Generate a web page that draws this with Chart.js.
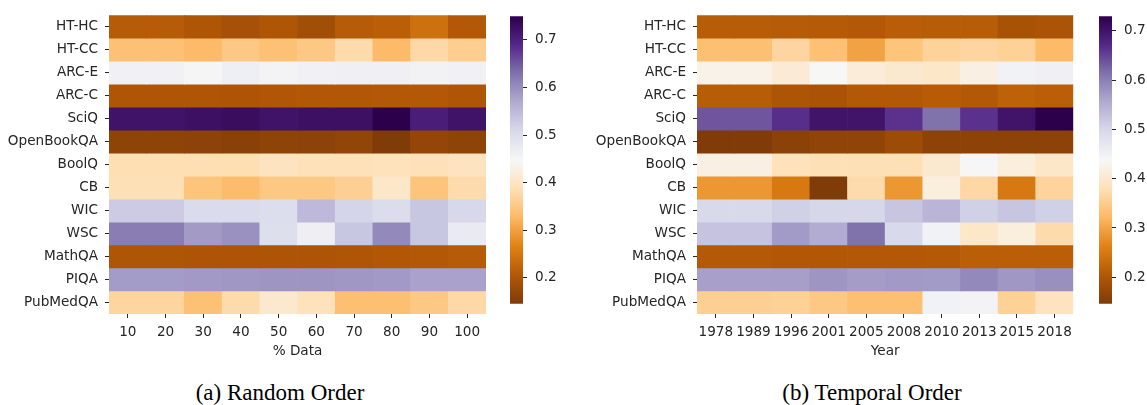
<!DOCTYPE html>
<html>
<head>
<meta charset="utf-8">
<script src="https://cdn.jsdelivr.net/npm/chart.js@4.4.0/dist/chart.umd.min.js"></script>
<style>
  body { margin: 0; background: #fff; width: 1147px; height: 405px; position: relative; overflow: hidden; }
  .box { position: absolute; }
  .cap {
    position: absolute; top: 381px; transform: translateX(-50%); white-space: nowrap;
    font-family: "Liberation Serif", "Times New Roman", serif; font-size: 23px; line-height: 23px; color: #000;
  }
</style>
</head>
<body>
<div class="box" style="left:0;top:0;width:490px;height:365px"><canvas id="hmRandom"></canvas></div>
<div class="box" style="left:510px;top:0;width:50px;height:320px"><canvas id="cbRandom"></canvas></div>
<div class="box" style="left:580px;top:0;width:498px;height:365px"><canvas id="hmTemporal"></canvas></div>
<div class="box" style="left:1099px;top:0;width:48px;height:320px"><canvas id="cbTemporal"></canvas></div>
<div class="cap" style="left:280px">(a) Random Order</div>
<div class="cap" style="left:872px">(b) Temporal Order</div>

<script>
const TASKS = ["HT-HC", "HT-CC", "ARC-E", "ARC-C", "SciQ", "OpenBookQA", "BoolQ",
  "CB", "WIC", "WSC", "MathQA", "PIQA", "PubMedQA"];

const PCT_LABELS = ["10", "20", "30", "40", "50", "60", "70", "80", "90", "100"];
const YEAR_LABELS = ["1978", "1989", "1996", "2001", "2005", "2008", "2010", "2013", "2015", "2018"];

const CB_TICKS = [0.2, 0.3, 0.4, 0.5, 0.6, 0.7];

// one row per task, one column per % of data
const RANDOM_VALUES = [
  [0.21, 0.21, 0.20, 0.19, 0.20, 0.185, 0.21, 0.215, 0.24, 0.205],     // HT-HC
  [0.34, 0.34, 0.33, 0.35, 0.34, 0.35, 0.38, 0.33, 0.375, 0.36],       // HT-CC
  [0.46, 0.46, 0.452, 0.465, 0.455, 0.46, 0.462, 0.462, 0.458, 0.46],  // ARC-E
  [0.20, 0.20, 0.20, 0.198, 0.202, 0.203, 0.203, 0.205, 0.205, 0.20],  // ARC-C
  [0.72, 0.72, 0.725, 0.73, 0.72, 0.725, 0.725, 0.75, 0.705, 0.72],    // SciQ
  [0.163, 0.163, 0.16, 0.157, 0.163, 0.16, 0.166, 0.145, 0.168, 0.162],// OpenBookQA
  [0.385, 0.385, 0.385, 0.385, 0.395, 0.39, 0.39, 0.393, 0.39, 0.395], // BoolQ
  [0.388, 0.388, 0.345, 0.333, 0.35, 0.35, 0.362, 0.405, 0.345, 0.38], // CB
  [0.527, 0.527, 0.505, 0.505, 0.50, 0.55, 0.515, 0.503, 0.533, 0.51], // WIC
  [0.618, 0.618, 0.587, 0.597, 0.497, 0.466, 0.533, 0.605, 0.533, 0.472], // WSC
  [0.20, 0.20, 0.198, 0.198, 0.198, 0.198, 0.20, 0.203, 0.205, 0.21],  // MathQA
  [0.585, 0.585, 0.588, 0.59, 0.592, 0.592, 0.59, 0.588, 0.578, 0.578],// PIQA
  [0.37, 0.37, 0.34, 0.38, 0.41, 0.393, 0.338, 0.338, 0.35, 0.375]     // PubMedQA
];

// one row per task, one column per year
const TEMPORAL_VALUES = [
  [0.21, 0.21, 0.208, 0.207, 0.205, 0.212, 0.21, 0.21, 0.192, 0.195],  // HT-HC
  [0.332, 0.332, 0.364, 0.333, 0.297, 0.338, 0.36, 0.364, 0.358, 0.326], // HT-CC
  [0.425, 0.425, 0.408, 0.437, 0.41, 0.402, 0.397, 0.42, 0.449, 0.452],// ARC-E
  [0.21, 0.21, 0.198, 0.194, 0.205, 0.205, 0.209, 0.204, 0.218, 0.213],// ARC-C
  [0.636, 0.636, 0.666, 0.70, 0.70, 0.663, 0.613, 0.663, 0.70, 0.73],  // SciQ
  [0.147, 0.147, 0.16, 0.165, 0.165, 0.18, 0.162, 0.162, 0.162, 0.162],// OpenBookQA
  [0.42, 0.42, 0.385, 0.38, 0.38, 0.38, 0.402, 0.44, 0.414, 0.397],    // BoolQ
  [0.285, 0.285, 0.25, 0.146, 0.373, 0.285, 0.414, 0.367, 0.25, 0.361],// CB
  [0.496, 0.496, 0.508, 0.50, 0.50, 0.522, 0.543, 0.508, 0.522, 0.508],// WIC
  [0.525, 0.525, 0.572, 0.555, 0.613, 0.496, 0.449, 0.397, 0.414, 0.373], // WSC
  [0.206, 0.206, 0.202, 0.203, 0.204, 0.204, 0.206, 0.214, 0.214, 0.214], // MathQA
  [0.566, 0.566, 0.568, 0.578, 0.57, 0.574, 0.572, 0.59, 0.576, 0.583],// PIQA
  [0.355, 0.355, 0.358, 0.344, 0.332, 0.332, 0.449, 0.446, 0.358, 0.388] // PubMedQA
];

// matplotlib PuOr, low -> high
const PUOR = [
  [127, 59, 8], [179, 88, 6], [224, 130, 20], [253, 184, 99], [254, 224, 182],
  [247, 247, 247], [216, 218, 235], [178, 171, 210], [128, 115, 172], [84, 39, 136], [45, 0, 75]
];

const TXT = "#262626";
const FONT = { family: "DejaVu Sans", size: 13.6 };

function puor(t) {
  t = Math.max(0, Math.min(1, t));
  const s = t * (PUOR.length - 1);
  const i = Math.min(Math.floor(s), PUOR.length - 2);
  const f = s - i;
  const a = PUOR[i], b = PUOR[i + 1];
  const c = a.map((v, k) => Math.round(v + (b[k] - v) * f));
  return `rgb(${c[0]},${c[1]},${c[2]})`;
}

function range(values) {
  const flat = values.flat();
  return [Math.min(...flat), Math.max(...flat)];
}

function tickGrid() {
  return { display: true, drawOnChartArea: false, drawTicks: true, tickLength: 4, color: TXT, lineWidth: 1 };
}

function heatmap(id, xLabels, values, xTitle, yWidth) {
  const [lo, hi] = range(values);
  const datasets = TASKS.map((task, i) => ({
    label: task,
    data: xLabels.map(() => [i - 0.5, i + 0.5]),
    backgroundColor: values[i].map((v) => puor((v - lo) / (hi - lo))),
    borderWidth: 0,
    grouped: false,
    barPercentage: 1,
    categoryPercentage: 1,
  }));

  new Chart(document.getElementById(id), {
    type: "bar",
    data: { labels: xLabels, datasets },
    options: {
      responsive: true,
      maintainAspectRatio: false,
      animation: false,
      layout: { padding: { top: 7, right: 4, left: 0, bottom: 0 } },
      plugins: { legend: { display: false }, tooltip: { enabled: false } },
      scales: {
        x: {
          grid: { ...tickGrid(), offset: false },
          border: { display: false },
          ticks: { color: TXT, font: FONT, padding: 6, maxRotation: 0, autoSkip: false },
          title: { display: true, text: xTitle, color: TXT, font: FONT, padding: { top: 0, bottom: 5 } },
          afterFit: (s) => { s.height = 51; },
        },
        y: {
          type: "linear",
          min: -0.5,
          max: TASKS.length - 0.5,
          reverse: true,
          grid: tickGrid(),
          border: { display: false },
          ticks: { color: TXT, font: FONT, padding: 7, autoSkip: false, callback: (v, i) => TASKS[i] },
          afterBuildTicks: (s) => { s.ticks = TASKS.map((_, i) => ({ value: i })); },
          afterFit: (s) => { s.width = yWidth; },
        },
      },
    },
  });
  return [lo, hi];
}

function colorbar(id, lo, hi, axisWidth) {
  new Chart(document.getElementById(id), {
    type: "bar",
    data: {
      labels: [""],
      datasets: [{
        data: [[lo, hi]],
        borderWidth: 0,
        barPercentage: 1,
        categoryPercentage: 1,
        backgroundColor: (ctx) => {
          const area = ctx.chart.chartArea;
          if (!area) return "#fff";
          const g = ctx.chart.ctx.createLinearGradient(0, area.bottom, 0, area.top);
          PUOR.forEach((c, k) => g.addColorStop(k / (PUOR.length - 1), `rgb(${c[0]},${c[1]},${c[2]})`));
          return g;
        },
      }],
    },
    options: {
      responsive: true,
      maintainAspectRatio: false,
      animation: false,
      layout: { padding: { top: 7, bottom: 6, left: 0, right: 0 } },
      plugins: { legend: { display: false }, tooltip: { enabled: false } },
      scales: {
        x: { display: false },
        y: {
          position: "right",
          min: lo,
          max: hi,
          grid: tickGrid(),
          border: { display: false },
          ticks: { color: TXT, font: FONT, padding: 8, callback: (v) => Number(v).toFixed(1) },
          afterBuildTicks: (s) => { s.ticks = CB_TICKS.map((v) => ({ value: v })); },
          afterFit: (s) => { s.width = axisWidth; },
        },
      },
    },
  });
}

const [loR, hiR] = heatmap("hmRandom", PCT_LABELS, RANDOM_VALUES, "% Data", 109);
colorbar("cbRandom", loR, hiR, 37);

const [loT, hiT] = heatmap("hmTemporal", YEAR_LABELS, TEMPORAL_VALUES, "Year", 117);
colorbar("cbTemporal", loT, hiT, 35);
</script>
</body>
</html>
